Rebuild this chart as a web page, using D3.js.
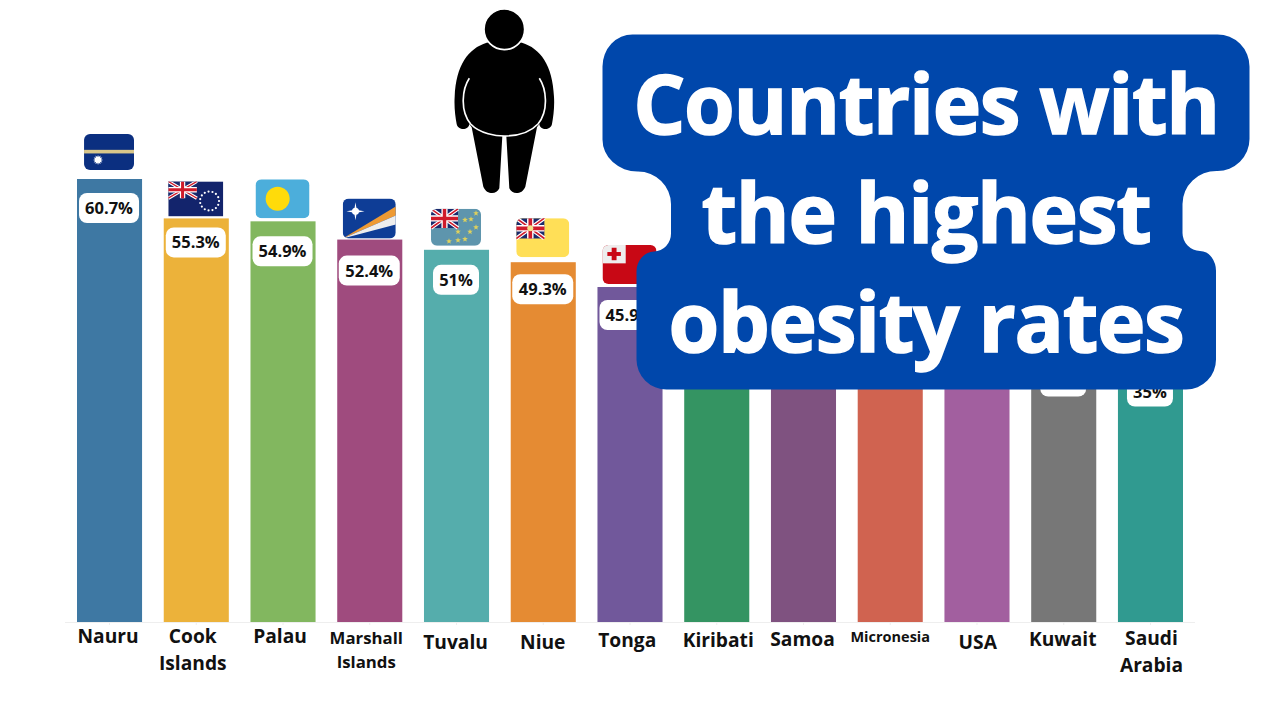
<!DOCTYPE html>
<html>
<head>
<meta charset="utf-8">
<title>Countries with the highest obesity rates</title>
<script src="https://cdn.jsdelivr.net/npm/d3@7"></script>
<style>
html, body { margin: 0; padding: 0; background: #fff; }
svg { display: block; font-family: "Open Sans", sans-serif; }
</style>
</head>
<body>
<div id="chart"></div>
<script>
// chart data, the last bars sit behind the title box so their heights are estimates
var countries = ["Nauru", "Cook Islands", "Palau", "Marshall Islands", "Tuvalu", "Niue", "Tonga",
	"Kiribati", "Samoa", "Micronesia", "USA", "Kuwait", "Saudi Arabia"];
var rates = [60.7, 55.3, 54.9, 52.4, 51, 49.3, 45.9, 45.5, 45, 44.6, 38, 36.5, 35];
var tickLines = [["Nauru"], ["Cook", "Islands"], ["Palau"], ["Marshall", "Islands"], ["Tuvalu"], ["Niue"], ["Tonga"],
	["Kiribati"], ["Samoa"], ["Micronesia"], ["USA"], ["Kuwait"], ["Saudi", "Arabia"]];
var titleLines = ["Countries with", "the highest", "obesity rates"];
// value labels the title box covers in the picture
var coveredLabels = ["Kiribati", "Samoa", "Micronesia", "USA", "Kuwait"];

// looks, one entry per bar
var barColors = ["#3e78a3", "#ecb23a", "#82b75f", "#9f4b7e", "#55adac", "#e58b33", "#71589b",
	"#349462", "#7f5280", "#d06350", "#a25f9f", "#777777", "#309a90"];
var labelDrop = [14, 9, 15, 16, 15, 12, 13, 13, 13, 13, 13, 11, 10];
var labelWidth = [60, 60, 60, 61, 46, 61, 60, 60, 60, 60, 60, 46, 46];
var tickFont = [19.2, 19.2, 19.2, 16.8, 19.2, 19.2, 19.2, 19.2, 19.2, 14.5, 19.2, 19.2, 19.2];
var tickY = [21, 21, 21, 22, 27, 27, 25, 25, 24, 20, 27, 24, 23];
var tickGap = [0, 27, 0, 24, 0, 0, 0, 0, 0, 0, 0, 0, 27];
var tickNudge = [-1.5, -3.5, -3, -3.5, -1, -0.5, -2.75, 1.5, -1, 0, 0.75, -1, 1];
var flagBox = [[50, 36, 9], [55, 35, 2], [54, 39, 3], [53, 40, 1], [50, 37, 4], [53, 39, 5], [54, 39, 3]];

var w = 1280, h = 720;
var baseY = 622;

var x = d3.scaleBand().domain(countries).range([77, 1183]).paddingInner(0.25).paddingOuter(0);
var y = d3.scaleLinear().domain([0, 60.7]).range([baseY, 179]);

var svg = d3.select("#chart").append("svg").attr("width", w).attr("height", h);
var defs = svg.append("defs");

// bars
svg.selectAll(".bar")
	.data(countries)
	.enter()
	.append("rect")
	.attr("class", "bar")
	.attr("x", function(d){ return x(d); })
	.attr("y", function(d, i){ return y(rates[i]); })
	.attr("width", x.bandwidth())
	.attr("height", function(d, i){ return baseY - y(rates[i]); })
	.attr("fill", function(d, i){ return barColors[i]; });

// axis
var axis = svg.append("g")
	.attr("transform", "translate(0," + baseY + ")")
	.call(d3.axisBottom(x).tickSize(3).tickSizeOuter(0).tickFormat(""));
axis.select(".domain").attr("d", "M65,0.5H1195").attr("stroke", "#eeeeee");
axis.selectAll(".tick line").attr("stroke", "#eeeeee");

// country names
svg.selectAll(".name")
	.data(tickLines)
	.enter()
	.append("text")
	.attr("class", "name")
	.attr("text-anchor", "middle")
	.attr("font-weight", 700)
	.attr("fill", "#111")
	.attr("font-size", function(d, i){ return tickFont[i]; })
	.each(function(lines, i){
		var t = d3.select(this);
		lines.forEach(function(line, j){
			t.append("tspan")
				.attr("x", x(countries[i]) + x.bandwidth() / 2 + tickNudge[i])
				.attr("y", baseY + tickY[i] + j * tickGap[i])
				.text(line);
		});
	});

// union jack for the flag cantons
function unionJack(g, cw, ch){
	g.append("rect").attr("width", cw).attr("height", ch).attr("fill", "#1a2a6c");
	var diag = "M0,0L" + cw + "," + ch + "M" + cw + ",0L0," + ch;
	g.append("path").attr("d", diag).attr("stroke", "#fff").attr("stroke-width", ch * 0.2);
	g.append("path").attr("d", diag).attr("stroke", "#cf1b2b").attr("stroke-width", ch * 0.08);
	var cross = "M" + cw / 2 + ",0V" + ch + "M0," + ch / 2 + "H" + cw;
	g.append("path").attr("d", cross).attr("stroke", "#fff").attr("stroke-width", ch * 0.32);
	g.append("path").attr("d", cross).attr("stroke", "#cf1b2b").attr("stroke-width", ch * 0.18);
}

function star(g, cx, cy, r, fill, points, waist){
	var n = points || 5;
	var pts = d3.range(n * 2).map(function(i){
		var a = i * Math.PI / n - Math.PI / 2;
		var rr = i % 2 ? r * (waist || 0.42) : r;
		return [cx + rr * Math.cos(a), cy + rr * Math.sin(a)];
	});
	g.append("polygon").attr("points", pts.join(" ")).attr("fill", fill);
}

var flagDraw = [
	function(g, fw, fh){ // Nauru
		g.append("rect").attr("width", fw).attr("height", fh).attr("fill", "#0b2f80");
		g.append("rect").attr("y", fh * 0.44).attr("width", fw).attr("height", fh * 0.1).attr("fill", "#d8c68a");
		star(g, fw * 0.28, fh * 0.72, 5, "#fff", 12, 0.6);
	},
	function(g, fw, fh){ // Cook Islands
		g.append("rect").attr("width", fw).attr("height", fh).attr("fill", "#13246c");
		unionJack(g.append("g"), fw * 0.52, fh * 0.48);
		d3.range(15).forEach(function(i){
			var a = i / 15 * 2 * Math.PI;
			g.append("circle").attr("cx", fw * 0.75 + 9.5 * Math.cos(a)).attr("cy", fh * 0.56 + 9.5 * Math.sin(a))
				.attr("r", 1.1).attr("fill", "#fff");
		});
	},
	function(g, fw, fh){ // Palau
		g.append("rect").attr("width", fw).attr("height", fh).attr("fill", "#4caedb");
		g.append("circle").attr("cx", fw * 0.41).attr("cy", fh * 0.5).attr("r", 12).attr("fill", "#ffdb0a");
	},
	function(g, fw, fh){ // Marshall Islands
		g.append("rect").attr("width", fw).attr("height", fh).attr("fill", "#0e3d96");
		g.append("polygon").attr("points", "0," + fh + " " + fw + ",8 " + fw + ",17").attr("fill", "#ee9a34");
		g.append("polygon").attr("points", "0," + fh + " " + fw + ",17 " + fw + ",26").attr("fill", "#eeeeee");
		star(g, fw * 0.24, fh * 0.32, 9, "#fff", 4, 0.2);
		g.append("circle").attr("cx", fw * 0.24).attr("cy", fh * 0.32).attr("r", 3.5).attr("fill", "#fff");
	},
	function(g, fw, fh){ // Tuvalu
		g.append("rect").attr("width", fw).attr("height", fh).attr("fill", "#5e95ad");
		unionJack(g.append("g"), fw * 0.54, fh * 0.52);
		[[.9, .12], [.68, .3], [.8, .28], [.54, .62], [.78, .62], [.9, .5], [.54, .85], [.68, .82], [.36, .88]].forEach(function(s){
			star(g, fw * s[0], fh * s[1], 3, "#dfd15c");
		});
	},
	function(g, fw, fh){ // Niue
		g.append("rect").attr("width", fw).attr("height", fh).attr("fill", "#ffdf57");
		unionJack(g.append("g"), fw * 0.53, fh * 0.52);
		g.append("circle").attr("cx", fw * 0.265).attr("cy", fh * 0.26).attr("r", 3).attr("fill", "#f5e08a");
	},
	function(g, fw, fh){ // Tonga
		g.append("rect").attr("width", fw).attr("height", fh).attr("fill", "#c80815");
		g.append("rect").attr("width", fw * 0.43).attr("height", fh * 0.47).attr("fill", "#eeeeee");
		g.append("rect").attr("x", fw * 0.09).attr("y", fh * 0.18).attr("width", fw * 0.25).attr("height", fh * 0.1).attr("fill", "#c80815");
		g.append("rect").attr("x", fw * 0.17).attr("y", fh * 0.07).attr("width", fw * 0.09).attr("height", fh * 0.32).attr("fill", "#c80815");
	}
];

flagDraw.forEach(function(draw, i){
	var fw = flagBox[i][0], fh = flagBox[i][1];
	var id = "flag" + i;
	defs.append("clipPath").attr("id", id).append("rect")
		.attr("width", fw).attr("height", fh).attr("rx", i == 1 ? 0 : 6);
	var g = svg.append("g")
		.attr("transform", "translate(" + (x(countries[i]) + x.bandwidth() / 2 - fw / 2 - 0.5) + "," + (y(rates[i]) - flagBox[i][2] - fh) + ")")
		.attr("clip-path", "url(#" + id + ")");
	draw(g, fw, fh);
});

// value labels
var labels = svg.selectAll(".value")
	.data(rates)
	.enter()
	.append("g")
	.attr("class", "value")
	.attr("transform", function(d, i){
		return "translate(" + (x(countries[i]) + x.bandwidth() / 2 - 0.5) + "," + (y(d) + labelDrop[i]) + ")";
	});
labels.append("rect")
	.attr("x", function(d, i){ return -labelWidth[i] / 2; })
	.attr("width", function(d, i){ return labelWidth[i]; })
	.attr("height", 30)
	.attr("rx", 8)
	.attr("fill", "#fff");
labels.filter(function(d, i){ return coveredLabels.indexOf(countries[i]) < 0; })
	.append("text")
	.attr("y", 21)
	.attr("text-anchor", "middle")
	.attr("font-size", 16.5)
	.attr("font-weight", 700)
	.attr("fill", "#111")
	.text(function(d){ return d + "%"; });

// person icon, drawn in 3x units
var person = svg.append("g").attr("transform", "translate(440,0) scale(0.3333)");
person.append("path")
	.attr("fill", "#000")
	.attr("d", "M193,120 L140,128 C85,145 48,195 44,290 C42,320 46,350 50,372 C54,392 86,392 88,372 L95,382 L130,560 C140,585 170,585 178,565 L187,408 L199,408 L208,565 C216,585 246,585 256,560 L291,382 L298,372 C300,392 332,392 336,372 C340,350 344,320 342,290 C338,195 301,145 246,128 Z");
person.append("path")
	.attr("fill", "none")
	.attr("stroke", "#fff")
	.attr("stroke-width", 5)
	.attr("d", "M88,235 C68,265 58,330 92,372 C120,402 170,408 193,408 C220,408 266,402 294,372 C328,330 318,265 298,235");
person.append("circle")
	.attr("cx", 193).attr("cy", 88).attr("r", 61)
	.attr("fill", "#000").attr("stroke", "#fff").attr("stroke-width", 5);

// title box
svg.append("path")
	.attr("fill", "#0047ab")
	.attr("d", "M633,34.5 H1217 A32,32 0 0 1 1249.5,67 V139 A32,32 0 0 1 1217,171 A34,33 0 0 0 1182.5,204 V233 A18,18 0 0 0 1200,251 A16,20 0 0 1 1216,272 V359 A30,30 0 0 1 1186,389.5 H667 A30,30 0 0 1 636.5,359 V272 A18,20 0 0 1 654,251.5 A17,18 0 0 0 671,233 V204 A33,33 0 0 0 638,171.5 A35,32 0 0 1 602.5,139 V67 A30,32 0 0 1 633,34.5 Z");

svg.selectAll(".title")
	.data(titleLines)
	.enter()
	.append("text")
	.attr("class", "title")
	.attr("x", 926)
	.attr("y", function(d, i){ return [134, 243, 352][i]; })
	.attr("text-anchor", "middle")
	.attr("font-size", 82)
	.attr("font-weight", 700)
	.attr("letter-spacing", -1.3)
	.attr("stroke", "#fff")
	.attr("stroke-width", 1.5)
	.attr("fill", "#fff")
	.text(function(d){ return d; });
</script>
</body>
</html>
